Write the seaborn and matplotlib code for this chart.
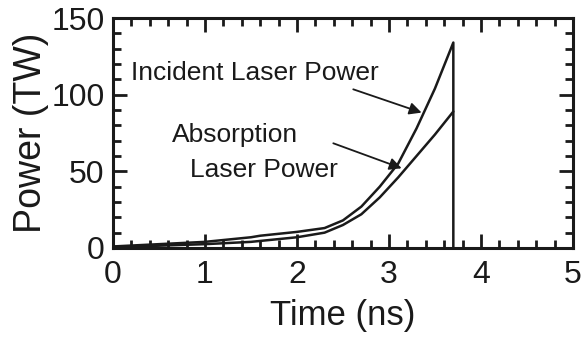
import matplotlib
matplotlib.use("Agg")
import matplotlib.pyplot as plt
import seaborn as sns
import pandas as pd
from matplotlib.ticker import MultipleLocator

# Data
time_incident = [0.0, 0.5, 1.0, 1.5, 1.6, 2.0, 2.3, 2.5, 2.7, 2.9, 3.1, 3.3, 3.5, 3.7, 3.7]
power_incident = [1.0, 2.5, 4.0, 7.0, 8.0, 10.5, 13.0, 18.0, 27.0, 40.0, 55.0, 78.0, 104.0, 134.0, 0.0]
time_absorb = [0.0, 0.5, 1.0, 1.5, 2.0, 2.3, 2.5, 2.7, 2.9, 3.1, 3.3, 3.5, 3.7]
power_absorb = [0.7, 1.5, 2.5, 4.0, 7.0, 10.0, 15.0, 22.0, 33.0, 46.0, 60.0, 74.0, 89.0]

x_ticks = [0, 1, 2, 3, 4, 5]
y_ticks = [0, 50, 100, 150]

sns.set_style("ticks")
plt.rcParams['font.family'] = ['Liberation Sans', 'DejaVu Sans']

fig = plt.figure(figsize=(5.84, 3.38), dpi=100)
ax = fig.add_axes([0.1935, 0.2663, 0.981 - 0.1935, 0.9467 - 0.2663])

df_inc = pd.DataFrame({"t": time_incident, "p": power_incident})
df_abs = pd.DataFrame({"t": time_absorb, "p": power_absorb})
sns.lineplot(data=df_inc, x="t", y="p", ax=ax, color="#1a1a1a", lw=1.8, sort=False, estimator=None)
sns.lineplot(data=df_abs, x="t", y="p", ax=ax, color="#1a1a1a", lw=1.8, sort=False, estimator=None)

ax.set_xlim(0, 5)
ax.set_ylim(0, 150)
ax.set_xticks(x_ticks)
ax.set_yticks(y_ticks)
ax.set_xticklabels([str(v) for v in x_ticks])
ax.set_yticklabels([str(v) for v in y_ticks])
ax.xaxis.set_minor_locator(MultipleLocator(0.2))
ax.yaxis.set_minor_locator(MultipleLocator(10))
ax.tick_params(which="both", direction="in", top=True, right=True, color="#1a1a1a", width=2)
ax.tick_params(which="major", length=10, labelsize=23, pad=6, labelcolor="#1a1a1a")
ax.tick_params(axis="x", which="major", pad=9)
ax.tick_params(which="minor", length=6)
for s in ax.spines.values():
    s.set_linewidth(2.2)
    s.set_color("#1a1a1a")

ax.set_xlabel("Time (ns)", fontsize=25, color="#1a1a1a", labelpad=6)
ax.set_ylabel("Power (TW)", fontsize=27, color="#1a1a1a", labelpad=2)

ax.text(0.196, 114, "Incident Laser Power", fontsize=19, va="center", ha="left", color="#1a1a1a")
ax.text(0.64, 73.7, "Absorption", fontsize=19, va="center", ha="left", color="#1a1a1a")
ax.text(0.837, 50.9, "Laser Power", fontsize=19, va="center", ha="left", color="#1a1a1a")

arrow_kw = dict(arrowstyle="-|>", color="#1a1a1a", lw=1.3, mutation_scale=18, shrinkA=0, shrinkB=0)
ax.annotate("", xy=(3.355, 88.3), xytext=(2.612, 103.5), arrowprops=arrow_kw)
ax.annotate("", xy=(3.138, 52.0), xytext=(2.395, 68.3), arrowprops=arrow_kw)

fig.savefig("out.png", dpi=100)
